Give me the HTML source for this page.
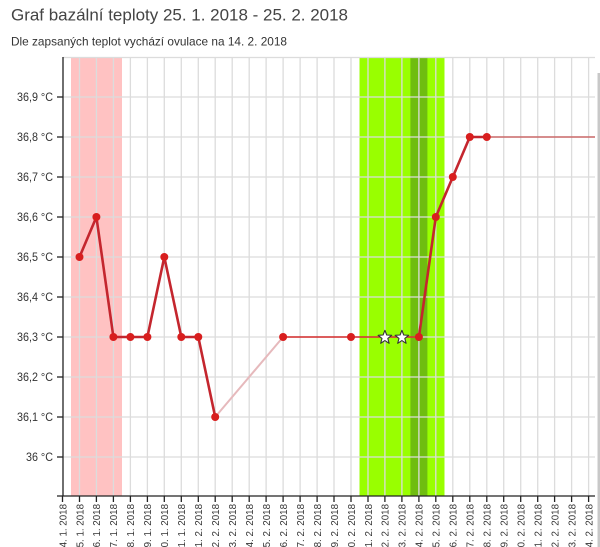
<!DOCTYPE html>
<html><head><meta charset="utf-8"><style>
html,body{margin:0;padding:0;background:#fff;width:600px;height:547px;overflow:hidden}
svg{display:block}
text{font-family:"Liberation Sans",Arial,sans-serif}
</style></head><body>
<svg width="600" height="547" viewBox="0 0 600 547" xmlns="http://www.w3.org/2000/svg">
<rect width="600" height="547" fill="#fff"/>
<text x="11" y="20.5" font-size="17" fill="#444" textLength="337" lengthAdjust="spacingAndGlyphs">Graf bazální teploty 25. 1. 2018 - 25. 2. 2018</text>
<text x="11" y="45.5" font-size="12" fill="#333" textLength="276" lengthAdjust="spacingAndGlyphs">Dle zapsaných teplot vychází ovulace na 14. 2. 2018</text>

<!-- bands -->
<rect x="71" y="57" width="51" height="439" fill="#ffc2c2"/>
<rect x="359.5" y="57" width="85" height="439" fill="#99ff00"/>
<rect x="410.4" y="57" width="17" height="439" fill="#6fbd10"/>

<!-- vertical grid -->
<g stroke="#dcdcdc" stroke-width="1.3">
<line x1="79.5" y1="57" x2="79.5" y2="496"/>
<line x1="96.4" y1="57" x2="96.4" y2="496"/>
<line x1="113.4" y1="57" x2="113.4" y2="496"/>
<line x1="130.4" y1="57" x2="130.4" y2="496"/>
<line x1="147.4" y1="57" x2="147.4" y2="496"/>
<line x1="164.3" y1="57" x2="164.3" y2="496"/>
<line x1="181.3" y1="57" x2="181.3" y2="496"/>
<line x1="198.3" y1="57" x2="198.3" y2="496"/>
<line x1="215.2" y1="57" x2="215.2" y2="496"/>
<line x1="232.2" y1="57" x2="232.2" y2="496"/>
<line x1="249.2" y1="57" x2="249.2" y2="496"/>
<line x1="266.1" y1="57" x2="266.1" y2="496"/>
<line x1="283.1" y1="57" x2="283.1" y2="496"/>
<line x1="300.1" y1="57" x2="300.1" y2="496"/>
<line x1="317.1" y1="57" x2="317.1" y2="496"/>
<line x1="334" y1="57" x2="334" y2="496"/>
<line x1="351" y1="57" x2="351" y2="496"/>
<line x1="368" y1="57" x2="368" y2="496"/>
<line x1="384.9" y1="57" x2="384.9" y2="496"/>
<line x1="401.9" y1="57" x2="401.9" y2="496"/>
<line x1="418.9" y1="57" x2="418.9" y2="496"/>
<line x1="435.8" y1="57" x2="435.8" y2="496"/>
<line x1="452.8" y1="57" x2="452.8" y2="496"/>
<line x1="469.8" y1="57" x2="469.8" y2="496"/>
<line x1="486.8" y1="57" x2="486.8" y2="496"/>
<line x1="503.7" y1="57" x2="503.7" y2="496"/>
<line x1="520.7" y1="57" x2="520.7" y2="496"/>
<line x1="537.7" y1="57" x2="537.7" y2="496"/>
<line x1="554.6" y1="57" x2="554.6" y2="496"/>
<line x1="571.6" y1="57" x2="571.6" y2="496"/>
<line x1="588.6" y1="57" x2="588.6" y2="496"/>
</g>
<!-- horizontal grid -->
<g stroke="#dcdcdc" stroke-width="1.3">
<line x1="63" y1="57.5" x2="595" y2="57.5"/>
<line x1="63" y1="97" x2="595" y2="97"/>
<line x1="63" y1="137" x2="595" y2="137"/>
<line x1="63" y1="177" x2="595" y2="177"/>
<line x1="63" y1="217" x2="595" y2="217"/>
<line x1="63" y1="257" x2="595" y2="257"/>
<line x1="63" y1="297" x2="595" y2="297"/>
<line x1="63" y1="337" x2="595" y2="337"/>
<line x1="63" y1="377" x2="595" y2="377"/>
<line x1="63" y1="417" x2="595" y2="417"/>
<line x1="63" y1="457" x2="595" y2="457"/>
</g>

<!-- axes -->
<g stroke="#222" stroke-width="1.3" fill="none">
<line x1="63" y1="57" x2="63" y2="496.5"/>
<line x1="57" y1="496" x2="595" y2="496"/>
<line x1="57" y1="97" x2="63" y2="97"/>
<line x1="57" y1="137" x2="63" y2="137"/>
<line x1="57" y1="177" x2="63" y2="177"/>
<line x1="57" y1="217" x2="63" y2="217"/>
<line x1="57" y1="257" x2="63" y2="257"/>
<line x1="57" y1="297" x2="63" y2="297"/>
<line x1="57" y1="337" x2="63" y2="337"/>
<line x1="57" y1="377" x2="63" y2="377"/>
<line x1="57" y1="417" x2="63" y2="417"/>
<line x1="57" y1="457" x2="63" y2="457"/>
</g>
<g stroke="#222" stroke-width="1.3">
<line x1="62.5" y1="496" x2="62.5" y2="502"/>
<line x1="79.5" y1="496" x2="79.5" y2="502"/>
<line x1="96.4" y1="496" x2="96.4" y2="502"/>
<line x1="113.4" y1="496" x2="113.4" y2="502"/>
<line x1="130.4" y1="496" x2="130.4" y2="502"/>
<line x1="147.4" y1="496" x2="147.4" y2="502"/>
<line x1="164.3" y1="496" x2="164.3" y2="502"/>
<line x1="181.3" y1="496" x2="181.3" y2="502"/>
<line x1="198.3" y1="496" x2="198.3" y2="502"/>
<line x1="215.2" y1="496" x2="215.2" y2="502"/>
<line x1="232.2" y1="496" x2="232.2" y2="502"/>
<line x1="249.2" y1="496" x2="249.2" y2="502"/>
<line x1="266.1" y1="496" x2="266.1" y2="502"/>
<line x1="283.1" y1="496" x2="283.1" y2="502"/>
<line x1="300.1" y1="496" x2="300.1" y2="502"/>
<line x1="317.1" y1="496" x2="317.1" y2="502"/>
<line x1="334" y1="496" x2="334" y2="502"/>
<line x1="351" y1="496" x2="351" y2="502"/>
<line x1="368" y1="496" x2="368" y2="502"/>
<line x1="384.9" y1="496" x2="384.9" y2="502"/>
<line x1="401.9" y1="496" x2="401.9" y2="502"/>
<line x1="418.9" y1="496" x2="418.9" y2="502"/>
<line x1="435.8" y1="496" x2="435.8" y2="502"/>
<line x1="452.8" y1="496" x2="452.8" y2="502"/>
<line x1="469.8" y1="496" x2="469.8" y2="502"/>
<line x1="486.8" y1="496" x2="486.8" y2="502"/>
<line x1="503.7" y1="496" x2="503.7" y2="502"/>
<line x1="520.7" y1="496" x2="520.7" y2="502"/>
<line x1="537.7" y1="496" x2="537.7" y2="502"/>
<line x1="554.6" y1="496" x2="554.6" y2="502"/>
<line x1="571.6" y1="496" x2="571.6" y2="502"/>
<line x1="588.6" y1="496" x2="588.6" y2="502"/>
</g>

<!-- y labels -->
<g font-size="12" fill="#333" text-anchor="end">
<text x="53" y="101" textLength="36" lengthAdjust="spacingAndGlyphs">36,9 °C</text>
<text x="53" y="141" textLength="36" lengthAdjust="spacingAndGlyphs">36,8 °C</text>
<text x="53" y="181" textLength="36" lengthAdjust="spacingAndGlyphs">36,7 °C</text>
<text x="53" y="221" textLength="36" lengthAdjust="spacingAndGlyphs">36,6 °C</text>
<text x="53" y="261" textLength="36" lengthAdjust="spacingAndGlyphs">36,5 °C</text>
<text x="53" y="301" textLength="36" lengthAdjust="spacingAndGlyphs">36,4 °C</text>
<text x="53" y="341" textLength="36" lengthAdjust="spacingAndGlyphs">36,3 °C</text>
<text x="53" y="381" textLength="36" lengthAdjust="spacingAndGlyphs">36,2 °C</text>
<text x="53" y="421" textLength="36" lengthAdjust="spacingAndGlyphs">36,1 °C</text>
<text x="53" y="461" textLength="27" lengthAdjust="spacingAndGlyphs">36 °C</text>
</g>

<!-- x labels -->
<g font-size="10.5" fill="#333" text-anchor="end">
<text transform="translate(66.3,504) rotate(-90) scale(0.93,1)">24. 1. 2018</text>
<text transform="translate(83.3,504) rotate(-90) scale(0.93,1)">25. 1. 2018</text>
<text transform="translate(100.2,504) rotate(-90) scale(0.93,1)">26. 1. 2018</text>
<text transform="translate(117.2,504) rotate(-90) scale(0.93,1)">27. 1. 2018</text>
<text transform="translate(134.2,504) rotate(-90) scale(0.93,1)">28. 1. 2018</text>
<text transform="translate(151.2,504) rotate(-90) scale(0.93,1)">29. 1. 2018</text>
<text transform="translate(168.1,504) rotate(-90) scale(0.93,1)">30. 1. 2018</text>
<text transform="translate(185.1,504) rotate(-90) scale(0.93,1)">31. 1. 2018</text>
<text transform="translate(202.1,504) rotate(-90) scale(0.93,1)">1. 2. 2018</text>
<text transform="translate(219,504) rotate(-90) scale(0.93,1)">2. 2. 2018</text>
<text transform="translate(236,504) rotate(-90) scale(0.93,1)">3. 2. 2018</text>
<text transform="translate(253,504) rotate(-90) scale(0.93,1)">4. 2. 2018</text>
<text transform="translate(269.9,504) rotate(-90) scale(0.93,1)">5. 2. 2018</text>
<text transform="translate(286.9,504) rotate(-90) scale(0.93,1)">6. 2. 2018</text>
<text transform="translate(303.9,504) rotate(-90) scale(0.93,1)">7. 2. 2018</text>
<text transform="translate(320.9,504) rotate(-90) scale(0.93,1)">8. 2. 2018</text>
<text transform="translate(337.8,504) rotate(-90) scale(0.93,1)">9. 2. 2018</text>
<text transform="translate(354.8,504) rotate(-90) scale(0.93,1)">10. 2. 2018</text>
<text transform="translate(371.8,504) rotate(-90) scale(0.93,1)">11. 2. 2018</text>
<text transform="translate(388.7,504) rotate(-90) scale(0.93,1)">12. 2. 2018</text>
<text transform="translate(405.7,504) rotate(-90) scale(0.93,1)">13. 2. 2018</text>
<text transform="translate(422.7,504) rotate(-90) scale(0.93,1)">14. 2. 2018</text>
<text transform="translate(439.6,504) rotate(-90) scale(0.93,1)">15. 2. 2018</text>
<text transform="translate(456.6,504) rotate(-90) scale(0.93,1)">16. 2. 2018</text>
<text transform="translate(473.6,504) rotate(-90) scale(0.93,1)">17. 2. 2018</text>
<text transform="translate(490.6,504) rotate(-90) scale(0.93,1)">18. 2. 2018</text>
<text transform="translate(507.5,504) rotate(-90) scale(0.93,1)">19. 2. 2018</text>
<text transform="translate(524.5,504) rotate(-90) scale(0.93,1)">20. 2. 2018</text>
<text transform="translate(541.5,504) rotate(-90) scale(0.93,1)">21. 2. 2018</text>
<text transform="translate(558.4,504) rotate(-90) scale(0.93,1)">22. 2. 2018</text>
<text transform="translate(575.4,504) rotate(-90) scale(0.93,1)">23. 2. 2018</text>
<text transform="translate(592.4,504) rotate(-90) scale(0.93,1)">24. 2. 2018</text>
</g>

<!-- series -->
<line x1="215.2" y1="417" x2="283.1" y2="337" stroke="#e6b9bc" stroke-width="2"/>
<line x1="283.1" y1="337" x2="418.9" y2="337" stroke="#d42a2a" stroke-width="1.6"/>
<line x1="486.8" y1="137" x2="595" y2="137" stroke="#cc6a6a" stroke-width="1.5"/>
<polyline fill="none" stroke="#c4262e" stroke-width="2.6" stroke-linejoin="round" points="79.5,257 96.4,217 113.4,337 130.4,337 147.4,337 164.3,257 181.3,337 198.3,337 215.2,417"/>
<polyline fill="none" stroke="#c4262e" stroke-width="2.6" stroke-linejoin="round" points="418.9,337 435.8,217 452.8,177 469.8,137 486.8,137"/>

<g fill="#d81e1e">
<circle cx="79.5" cy="257" r="4"/>
<circle cx="96.4" cy="217" r="4"/>
<circle cx="113.4" cy="337" r="4"/>
<circle cx="130.4" cy="337" r="4"/>
<circle cx="147.4" cy="337" r="4"/>
<circle cx="164.3" cy="257" r="4"/>
<circle cx="181.3" cy="337" r="4"/>
<circle cx="198.3" cy="337" r="4"/>
<circle cx="215.2" cy="417" r="4"/>
<circle cx="283.1" cy="337" r="4"/>
<circle cx="351" cy="337" r="4"/>
<circle cx="418.9" cy="337" r="4"/>
<circle cx="435.8" cy="217" r="4"/>
<circle cx="452.8" cy="177" r="4"/>
<circle cx="469.8" cy="137" r="4"/>
<circle cx="486.8" cy="137" r="4"/>
</g>
<g fill="#fff" stroke="#333" stroke-width="1" stroke-linejoin="round">
<path transform="translate(384.9,337.5) scale(1.1)" d="M0,-6.5 L1.65,-2.27 L6.18,-2.01 L2.66,0.87 L3.82,5.26 L0,2.8 L-3.82,5.26 L-2.66,0.87 L-6.18,-2.01 L-1.65,-2.27 Z"/>
<path transform="translate(401.9,337.5) scale(1.1)" d="M0,-6.5 L1.65,-2.27 L6.18,-2.01 L2.66,0.87 L3.82,5.26 L0,2.8 L-3.82,5.26 L-2.66,0.87 L-6.18,-2.01 L-1.65,-2.27 Z"/>
</g>

<!-- scrollbar sliver -->
<rect x="597.5" y="73" width="2.5" height="474" fill="#c8c8c8"/>
</svg>
</body></html>
